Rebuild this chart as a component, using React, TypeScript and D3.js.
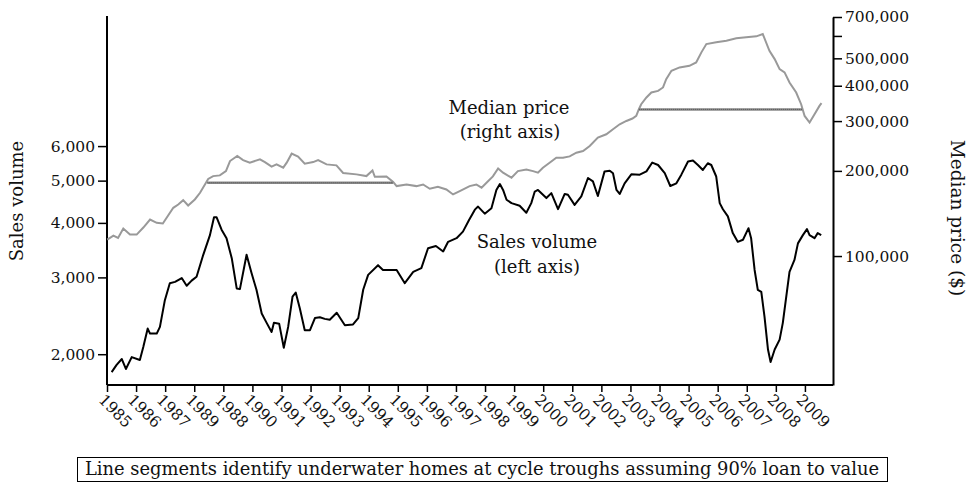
import React, { useRef, useEffect } from 'react'
import { select, line, scaleLinear, scaleLog, axisLeft, axisRight, axisBottom, format } from 'd3'

// monthly-ish readings: [year, sales volume]
const salesVolume: [number, number][] = [
  [1985.16, 1820], [1985.33, 1890], [1985.51, 1950], [1985.65, 1850], [1985.85, 1970],
  [1986.13, 1940], [1986.25, 2080], [1986.4, 2290], [1986.48, 2230], [1986.71, 2230],
  [1986.82, 2310], [1986.99, 2660], [1987.16, 2910], [1987.34, 2930], [1987.57, 2990],
  [1987.74, 2870], [1987.91, 2950], [1988.08, 3010], [1988.31, 3380], [1988.54, 3750],
  [1988.68, 4120], [1988.77, 4120], [1988.94, 3860], [1989.11, 3690], [1989.29, 3320],
  [1989.46, 2830], [1989.57, 2820], [1989.8, 3380], [1989.97, 3070], [1990.14, 2810],
  [1990.32, 2480], [1990.49, 2360], [1990.66, 2250], [1990.74, 2360], [1990.92, 2350],
  [1991.08, 2070], [1991.23, 2310], [1991.38, 2710], [1991.49, 2770], [1991.63, 2550],
  [1991.8, 2270], [1991.98, 2270], [1992.15, 2420], [1992.32, 2430], [1992.49, 2410],
  [1992.66, 2400], [1992.9, 2490], [1993.18, 2330], [1993.46, 2340], [1993.64, 2420],
  [1993.81, 2810], [1993.98, 3040], [1994.32, 3200], [1994.49, 3120], [1994.96, 3120],
  [1995.24, 2910], [1995.53, 3090], [1995.81, 3150], [1996.04, 3500], [1996.31, 3540],
  [1996.56, 3440], [1996.73, 3620], [1997.02, 3690], [1997.24, 3820], [1997.45, 4060],
  [1997.65, 4290], [1997.76, 4360], [1997.99, 4200], [1998.22, 4320], [1998.39, 4760],
  [1998.51, 4910], [1998.62, 4760], [1998.74, 4520], [1998.91, 4440], [1999.19, 4380],
  [1999.42, 4220], [1999.59, 4440], [1999.71, 4720], [1999.82, 4760], [2000.11, 4560],
  [2000.28, 4680], [2000.51, 4300], [2000.74, 4660], [2000.85, 4640], [2001.08, 4400],
  [2001.31, 4600], [2001.54, 5070], [2001.71, 4980], [2001.88, 4610], [2002.11, 5250],
  [2002.29, 5270], [2002.4, 5200], [2002.52, 4760], [2002.63, 4660], [2002.8, 4930],
  [2003.03, 5170], [2003.32, 5160], [2003.55, 5250], [2003.75, 5500], [2003.95, 5430],
  [2004.18, 5200], [2004.37, 4860], [2004.58, 4930], [2004.75, 5160], [2004.98, 5530],
  [2005.15, 5560], [2005.32, 5430], [2005.49, 5290], [2005.66, 5480], [2005.78, 5430],
  [2005.95, 5110], [2006.07, 4440], [2006.18, 4300], [2006.35, 4140], [2006.52, 3790],
  [2006.69, 3620], [2006.87, 3660], [2007.06, 3890], [2007.15, 3690], [2007.27, 3120],
  [2007.38, 2810], [2007.5, 2780], [2007.61, 2440], [2007.73, 2050], [2007.82, 1920],
  [2007.96, 2050], [2008.13, 2160], [2008.24, 2360], [2008.47, 3090], [2008.64, 3290],
  [2008.76, 3590], [2008.93, 3750], [2009.07, 3870], [2009.16, 3750], [2009.33, 3690],
  [2009.44, 3790], [2009.56, 3750],
]

// [year, median price $]
const medianPrice: [number, number][] = [
  [1985.01, 114300], [1985.22, 118100], [1985.38, 115900], [1985.56, 125100], [1985.79, 119100],
  [1986.02, 119100], [1986.25, 126100], [1986.48, 134600], [1986.71, 131000], [1986.92, 130300],
  [1987.28, 148100], [1987.45, 152100], [1987.62, 157600], [1987.79, 150900], [1988.02, 158500],
  [1988.2, 167400], [1988.48, 187300], [1988.65, 191700], [1988.88, 192800], [1989.09, 199600],
  [1989.23, 216700], [1989.48, 225700], [1989.68, 218400], [1989.91, 213800], [1990.26, 219700],
  [1990.43, 214900], [1990.66, 207000], [1990.83, 210900], [1991.06, 205300], [1991.18, 213800],
  [1991.35, 230100], [1991.57, 224600], [1991.8, 212100], [1992.09, 214900], [1992.26, 218400],
  [1992.55, 210900], [1992.89, 209200], [1993.12, 196700], [1993.58, 194400], [1993.92, 191700],
  [1994.13, 200800], [1994.21, 190700], [1994.61, 191200], [1994.84, 182800], [1994.96, 176700],
  [1995.3, 179100], [1995.64, 176700], [1995.87, 179100], [1996.1, 172900], [1996.38, 175800],
  [1996.67, 171900], [1996.9, 165100], [1997.13, 169600], [1997.47, 176700], [1997.7, 179100],
  [1997.88, 174400], [1998.05, 181600], [1998.27, 191200], [1998.45, 204100], [1998.62, 197100],
  [1998.91, 189200], [1999.13, 199600], [1999.42, 202400], [1999.65, 199600], [1999.82, 197100],
  [1999.99, 205300], [2000.22, 213800], [2000.45, 222700], [2000.68, 222400], [2000.91, 225100],
  [2001.14, 232000], [2001.37, 235100], [2001.6, 244900], [2001.88, 262200], [2002.17, 269400],
  [2002.4, 280600], [2002.63, 292300], [2002.86, 300300], [2003.07, 306300], [2003.2, 312800],
  [2003.29, 330400], [2003.37, 344100], [2003.55, 363500], [2003.72, 378600], [2003.95, 383600],
  [2004.12, 394400], [2004.23, 422100], [2004.41, 451700], [2004.69, 464400], [2005.03, 470500],
  [2005.26, 483700], [2005.44, 524900], [2005.61, 561600], [2005.95, 569500], [2006.3, 577000],
  [2006.64, 588400], [2006.98, 593200], [2007.33, 598100], [2007.55, 609400], [2007.78, 531800],
  [2007.96, 496900], [2008.13, 457900], [2008.3, 445800], [2008.47, 410900], [2008.7, 378600],
  [2008.87, 344100], [2008.99, 312800], [2009.16, 296400], [2009.33, 317200], [2009.5, 339400],
  [2009.57, 347000],
]

// underwater segments: [start year, end year, price level]
const underwater: [number, number, number][] = [
  [1988.45, 1994.84, 181600],
  [2003.29, 2008.91, 330000],
]

const years = Array.from({ length: 25 }, (_, i) => 1985 + i)
const yearLabels = ['1985', '1986', '1987', '1989', '1988', '1990', '1991', '1992', '1993', '1994',
  '1995', '1996', '1997', '1998', '1999', '2000', '2001', '2002', '2003', '2004',
  '2005', '2006', '2007', '2008', '2009']
const salesTicks = [2000, 3000, 4000, 5000, 6000]
const priceTicks = [100000, 200000, 300000, 400000, 500000, 600000, 700000]

const FONT = '"DejaVu Serif", serif'

const App = () => {
  const svgRef = useRef<SVGSVGElement>(null)

  useEffect(() => {
    const svg = select(svgRef.current)
    svg.selectAll('*').remove()

    const left = 107
    const right = 833
    const top = 16
    const bottom = 385

    const xScale = scaleLinear().domain([1985, 2010]).range([left, 834])
    const ySales = scaleLog().domain([1700, 11860]).range([bottom, 17])
    const yPrice = scaleLog().domain([35000, 700000]).range([bottom, 17])

    const fmt = format(',')

    const gLeft = svg.append('g')
      .attr('transform', `translate(${left},0)`)
      .call(axisLeft(ySales).tickValues(salesTicks).tickFormat(d => fmt(d as number)).tickSize(9).tickSizeOuter(0).tickPadding(3))

    gLeft.select('.domain').attr('d', `M0,${top}V${bottom}`)

    const gRight = svg.append('g')
      .attr('transform', `translate(${right},0)`)
      .call(axisRight(yPrice).tickValues(priceTicks)
        .tickFormat(d => (d === 600000 ? '' : fmt(d as number)))
        .tickSize(9).tickSizeOuter(0).tickPadding(3))

    const gBottom = svg.append('g')
      .attr('transform', `translate(0,${bottom})`)
      .call(axisBottom(xScale).tickValues(years).tickFormat((d, i) => yearLabels[i]).tickSize(7).tickSizeOuter(0))

    gBottom.select('.domain').attr('d', `M${left},0H${right}`)

    for (const g of [gLeft, gRight, gBottom]) {
      g.attr('font-family', FONT).attr('font-size', 15.5)
      g.selectAll('.domain').attr('stroke', '#000').attr('stroke-width', 2)
      g.selectAll('.tick line').attr('stroke', '#000').attr('stroke-width', 1.5)
      g.selectAll('.tick text').attr('fill', '#111')
    }

    gBottom.selectAll('.tick text')
      .attr('text-anchor', 'start')
      .attr('transform', 'translate(-6,12) rotate(45)')
      .attr('dy', '0.35em')
      .attr('y', 0)

    // price line
    svg.append('path')
      .datum(medianPrice)
      .attr('d', line<[number, number]>().x(d => xScale(d[0])).y(d => yPrice(d[1])))
      .attr('fill', 'none')
      .attr('stroke', '#999')
      .attr('stroke-width', 2)

    // underwater segments
    svg.selectAll('.uw')
      .data(underwater)
      .join('line')
      .attr('class', 'uw')
      .attr('x1', d => xScale(d[0]))
      .attr('x2', d => xScale(d[1]))
      .attr('y1', d => yPrice(d[2]))
      .attr('y2', d => yPrice(d[2]))
      .attr('stroke', '#8a8a8a')
      .attr('stroke-width', 2.5)

    svg.selectAll('.uw2')
      .data(underwater)
      .join('line')
      .attr('class', 'uw2')
      .attr('x1', d => xScale(d[0]))
      .attr('x2', d => xScale(d[1]))
      .attr('y1', d => yPrice(d[2]))
      .attr('y2', d => yPrice(d[2]))
      .attr('stroke', '#555')
      .attr('stroke-width', 1)
      .attr('stroke-dasharray', '1,1')

    // sales line
    svg.append('path')
      .datum(salesVolume)
      .attr('d', line<[number, number]>().x(d => xScale(d[0])).y(d => ySales(d[1])))
      .attr('fill', 'none')
      .attr('stroke', '#000')
      .attr('stroke-width', 2)
      .attr('stroke-linejoin', 'round')

    const label = (x: number, y: number, t: string, size = 18) =>
      svg.append('text')
        .attr('x', x)
        .attr('y', y)
        .attr('text-anchor', 'middle')
        .attr('font-family', FONT)
        .attr('font-size', size)
        .attr('fill', '#111')
        .text(t)

    label(509, 114, 'Median price')
    label(510, 138, '(right axis)')
    label(537, 248, 'Sales volume')
    label(537, 273, '(left axis)')

    svg.append('text')
      .attr('transform', 'translate(23,201) rotate(-90)')
      .attr('text-anchor', 'middle')
      .attr('font-family', FONT)
      .attr('font-size', 18)
      .attr('fill', '#111')
      .text('Sales volume')

    svg.append('text')
      .attr('transform', 'translate(951,218) rotate(90)')
      .attr('text-anchor', 'middle')
      .attr('font-family', FONT)
      .attr('font-size', 18.5)
      .attr('fill', '#111')
      .text('Median price ($)')

    // footnote box
    svg.append('rect')
      .attr('x', 77.5)
      .attr('y', 457.5)
      .attr('width', 810)
      .attr('height', 24)
      .attr('fill', 'none')
      .attr('stroke', '#000')
      .attr('stroke-width', 1)

    label(482, 475, 'Line segments identify underwater homes at cycle troughs assuming 90% loan to value', 17.9)
  }, [])

  return (
    <div style={{ position: 'absolute', left: 0, top: 0 }}>
      <svg width={971} height={482} ref={svgRef} style={{ display: 'block', background: '#fff' }} />
    </div>
  )
}

export default App
